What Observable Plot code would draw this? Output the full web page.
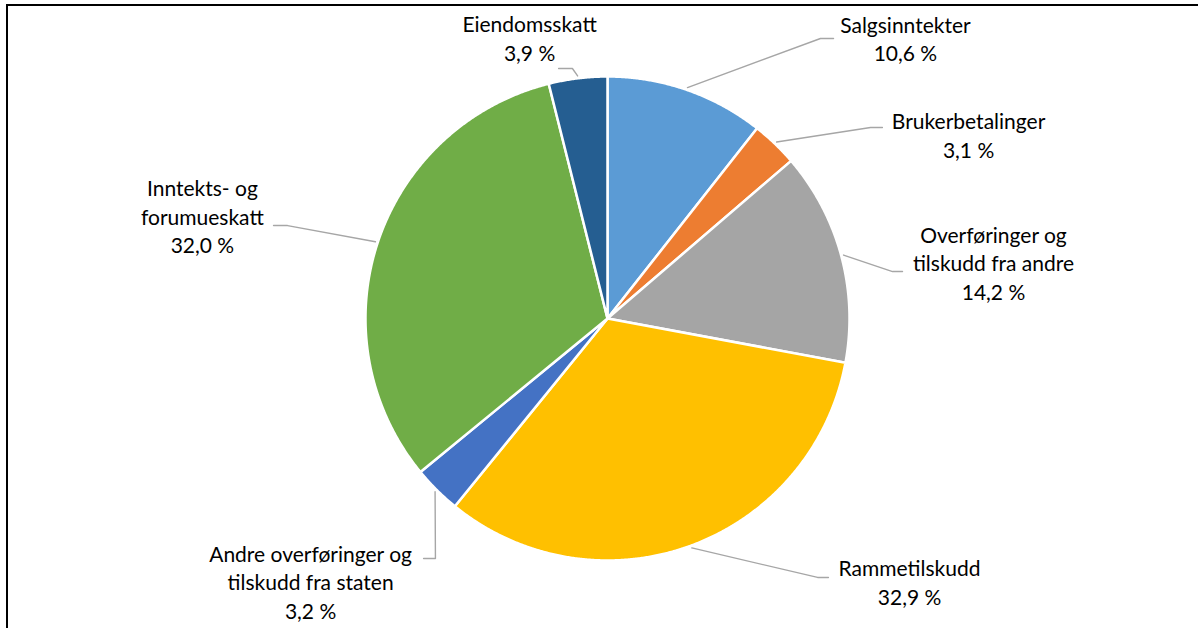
<!DOCTYPE html>
<html>
<head>
<meta charset="utf-8">
<script src="https://cdn.jsdelivr.net/npm/d3@7"></script>
<script src="https://cdn.jsdelivr.net/npm/@observablehq/plot@0.6"></script>
<style>
  html, body { margin: 0; padding: 0; background: #fff; }
  #wrap { position: relative; width: 1202px; height: 628px; overflow: hidden; }
  #frame { position: absolute; left: 6px; top: 4px; width: 1190px; height: 640px;
           border-top: 2px solid #000; border-left: 2px solid #000; pointer-events: none; }
</style>
</head>
<body>
<div id="wrap"><div id="frame"></div></div>
<script>
// ---- data ----
const categories = [
  "Salgsinntekter",
  "Brukerbetalinger",
  "Overføringer og tilskudd fra andre",
  "Rammetilskudd",
  "Andre overføringer og tilskudd fra staten",
  "Inntekts- og forumueskatt",
  "Eiendomsskatt"
];
const values = [10.6, 3.1, 14.2, 32.9, 3.2, 32.0, 3.9];
const labelNames = [
  "Salgsinntekter",
  "Brukerbetalinger",
  "Overføringer og\ntilskudd fra andre",
  "Rammetilskudd",
  "Andre overføringer og\ntilskudd fra staten",
  "Inntekts- og\nforumueskatt",
  "Eiendomsskatt"
];
const colors = ["#5B9BD5", "#ED7D31", "#A5A5A5", "#FFC000", "#4472C4", "#70AD47", "#255E91"];

// ---- layout (in pie-radius units, label block centres and leader elbows) ----
const labelLayout = [
  {label: [1.231, 1.160], elbow: [0.880, 1.157], end: [0.934, 1.157]},
  {label: [1.492, 0.761], elbow: [1.087, 0.789], end: [1.136, 0.789]},
  {label: [1.595, 0.232], elbow: [1.178, 0.194], end: [1.219, 0.194]},
  {label: [1.248, -1.086], elbow: [0.868, -1.070], end: [0.913, -1.070]},
  {label: [-1.227, -1.086], elbow: [-0.711, -0.992], end: [-0.760, -0.992]},
  {label: [-1.674, 0.426], elbow: [-1.322, 0.384], end: [-1.380, 0.384]},
  {label: [-0.322, 1.162], elbow: [-0.145, 1.033], end: [-0.202, 1.033]}
];

const fmt = v => d3.format(".1f")(v).replace(".", ",") + " %";

const arcs = d3.pie().sort(null).value(d => d)(values);

// slice polygons
const slicePts = [];
arcs.forEach((a, i) => {
  const n = Math.max(4, Math.ceil((a.endAngle - a.startAngle) / 0.005));
  slicePts.push({k: i, x: 0, y: 0});
  for (let j = 0; j <= n; j++) {
    const t = a.startAngle + (a.endAngle - a.startAngle) * j / n;
    slicePts.push({k: i, x: Math.sin(t), y: Math.cos(t)});
  }
  slicePts.push({k: i, x: 0, y: 0});
});

// leader lines
const leaderPts = [];
arcs.forEach((a, i) => {
  const m = (a.startAngle + a.endAngle) / 2;
  const L = labelLayout[i];
  leaderPts.push({k: i, x: 1.01 * Math.sin(m), y: 1.01 * Math.cos(m)});
  leaderPts.push({k: i, x: L.elbow[0], y: L.elbow[1]});
  leaderPts.push({k: i, x: L.end[0], y: L.end[1]});
});

const labels = categories.map((c, i) => ({
  x: labelLayout[i].label[0],
  y: labelLayout[i].label[1],
  text: labelNames[i] + "\n" + fmt(values[i])
}));

const chart = Plot.plot({
  width: 1202,
  height: 628,
  margin: 0,
  style: {background: "transparent", overflow: "visible"},
  x: {domain: [-1, 1], range: [365, 849], axis: null},
  y: {domain: [-1, 1], range: [560, 76], axis: null},
  marks: [
    Plot.line(slicePts, {
      x: "x", y: "y", z: "k",
      fill: d => colors[d.k],
      stroke: "#fff", strokeWidth: 2.5, strokeLinejoin: "round"
    }),
    Plot.line(leaderPts, {
      x: "x", y: "y", z: "k",
      stroke: "#a6a6a6", strokeWidth: 1.4
    }),
    Plot.text(labels, {
      x: "x", y: "y", text: "text",
      fontSize: 21, fontFamily: "Lato", fill: "#000",
      lineHeight: 1.357, textAnchor: "middle"
    })
  ]
});
document.getElementById("wrap").prepend(chart);
</script>
</body>
</html>
